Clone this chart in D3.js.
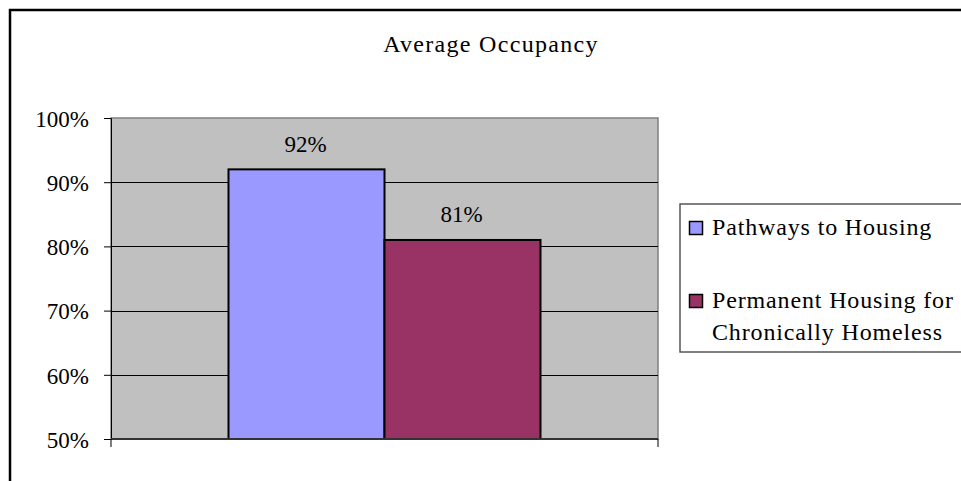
<!DOCTYPE html>
<html>
<head>
<meta charset="utf-8">
<script src="https://cdn.jsdelivr.net/npm/d3@7"></script>
<style>
  body { margin: 0; background: #fff; }
</style>
</head>
<body>
<div class="vis"></div>
<script>
// chart data
const categories = ["Average Occupancy"];
const seriesNames = ["Pathways to Housing", "Permanent Housing for Chronically Homeless"];
const seriesValues = [92, 81];
const seriesColors = ["#9999ff", "#993366"];
const tickValues = [50, 60, 70, 80, 90, 100];

const width = 961, height = 481;
const plot = {left: 111, right: 658, top: 118, bottom: 439};
const serif = "'Liberation Serif', 'Times New Roman', serif";

const svg = d3.select(".vis")
    .append("svg")
    .attr("width", width)
    .attr("height", height)
    .style("font-family", serif);

// outer chart border (runs off the right/bottom edge)
svg.append("rect")
    .attr("x", 10).attr("y", 10)
    .attr("width", width + 20).attr("height", height + 20)
    .style("fill", "#fff")
    .style("stroke", "#000")
    .style("stroke-width", 2.5);

svg.append("text")
    .attr("x", 491).attr("y", 52)
    .style("font-family", serif)
    .style("font-size", "24px")
    .style("letter-spacing", "1.3px")
    .style("text-anchor", "middle")
    .text(categories[0]);

const y = d3.scaleLinear().domain([50, 100]).range([plot.bottom, plot.top]);

const x0 = d3.scaleBand().domain(categories).range([plot.left, plot.right]).paddingInner(0).paddingOuter(0.3766);
const x1 = d3.scaleBand().domain(seriesNames).range([0, x0.bandwidth()]);

// plot area
svg.append("rect")
    .attr("x", plot.left).attr("y", plot.top)
    .attr("width", plot.right - plot.left).attr("height", plot.bottom - plot.top)
    .style("fill", "#c0c0c0")
    .style("stroke", "#808080")
    .style("stroke-width", 1.5);

// gridlines
svg.append("g")
    .selectAll("line")
    .data(tickValues.filter(d => d > 50 && d < 100))
    .join("line")
    .attr("x1", plot.left).attr("x2", plot.right)
    .attr("y1", d => Math.round(y(d)) + 0.5).attr("y2", d => Math.round(y(d)) + 0.5)
    .style("stroke", "#000")
    .style("stroke-width", 1);

// bars
const barG = svg.append("g").attr("transform", "translate(" + x0(categories[0]) + ",0)");
barG.selectAll("rect")
    .data(seriesNames)
    .join("rect")
    .attr("x", d => x1(d))
    .attr("y", (d, i) => y(seriesValues[i]))
    .attr("width", x1.bandwidth())
    .attr("height", (d, i) => y(50) - y(seriesValues[i]))
    .style("fill", (d, i) => seriesColors[i])
    .style("stroke", "#000")
    .style("stroke-width", 2);

barG.selectAll("text")
    .data(seriesNames)
    .join("text")
    .attr("x", d => x1(d) + x1.bandwidth() / 2 - 1)
    .attr("y", (d, i) => y(seriesValues[i]) - 17.5)
    .style("font-family", serif)
    .style("font-size", "23px")
    .style("text-anchor", "middle")
    .text((d, i) => seriesValues[i] + "%");

// y axis
const yAxis = svg.append("g")
    .attr("transform", "translate(" + plot.left + ",0)")
    .call(d3.axisLeft(y).tickValues(tickValues).tickSize(7).tickPadding(15).tickFormat(d => d + "%"));
yAxis.select(".domain").style("stroke", "#000").style("stroke-width", 1);
yAxis.selectAll(".tick line").style("stroke", "#000");
yAxis.selectAll(".tick text")
    .style("font-family", serif)
    .style("font-size", "23px")
    .style("fill", "#000")
    .attr("dy", "0.36em");

// x axis
const xAxis = svg.append("g")
    .attr("transform", "translate(0," + plot.bottom + ")");
xAxis.append("line")
    .attr("x1", plot.left).attr("x2", plot.right)
    .style("stroke", "#333").style("stroke-width", 2);
xAxis.selectAll(".xt")
    .data([plot.left, plot.right])
    .join("line")
    .attr("x1", d => d).attr("x2", d => d)
    .attr("y1", 0).attr("y2", 8)
    .style("stroke", "#000");

// legend
const legend = svg.append("g").attr("transform", "translate(680,204)");
legend.append("rect")
    .attr("width", 300).attr("height", 148)
    .style("fill", "#fff")
    .style("stroke", "#555")
    .style("stroke-width", 1.5);

const legendLines = [["Pathways to Housing"], ["Permanent Housing for", "Chronically Homeless"]];
const legendItems = legend.selectAll(".item")
    .data(seriesNames)
    .join("g")
    .attr("class", "item")
    .attr("transform", (d, i) => "translate(0," + (i * 73) + ")");

legendItems.append("rect")
    .attr("x", 9.5).attr("y", 17.5)
    .attr("width", 13).attr("height", 13)
    .style("fill", (d, i) => seriesColors[i])
    .style("stroke", "#000")
    .style("stroke-width", 1.5);

legendItems.append("text")
    .style("font-family", serif)
    .style("font-size", "24px")
    .style("letter-spacing", "0.85px")
    .selectAll("tspan")
    .data((d, i) => legendLines[i])
    .join("tspan")
    .attr("x", 32)
    .attr("y", (d, j) => 31 + j * 32)
    .text(d => d);
</script>
</body>
</html>
